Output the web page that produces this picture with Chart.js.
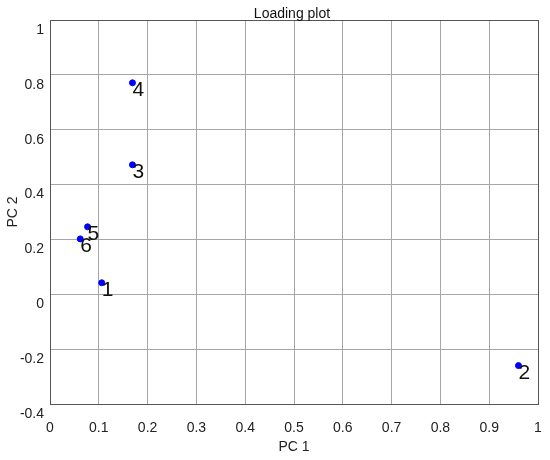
<!DOCTYPE html>
<html>
<head>
<meta charset="utf-8">
<script src="https://cdn.jsdelivr.net/npm/chart.js@4"></script>
<style>
  html, body { margin: 0; padding: 0; background: #fff; }
  #wrap { width: 550px; height: 460px; }
</style>
</head>
<body>
<div id="wrap"><canvas id="c" width="550" height="460"></canvas></div>
<script>
const chartTitle = "Loading plot";
const pointLabels = ["1", "2", "3", "4", "5", "6"];
const pc1Values = [0.106, 0.960, 0.169, 0.169, 0.077, 0.062];
const pc2Values = [0.042, -0.260, 0.472, 0.771, 0.246, 0.202];
const xTicks = [0, 0.1, 0.2, 0.3, 0.4, 0.5, 0.6, 0.7, 0.8, 0.9, 1];
const yTicks = [-0.4, -0.2, 0, 0.2, 0.4, 0.6, 0.8, 1];

const FONT = "'Liberation Sans', Arial, sans-serif";
const points = pc1Values.map((x, i) => ({ x: x, y: pc2Values[i] }));

const frameAndLabels = {
  id: 'frameAndLabels',
  afterDraw(chart) {
    const ctx = chart.ctx;
    const a = chart.chartArea;
    ctx.save();
    ctx.strokeStyle = '#555';
    ctx.lineWidth = 1;
    ctx.strokeRect(Math.round(a.left) + 0.5, Math.round(a.top) + 0.5,
                   Math.round(a.right - a.left), Math.round(a.bottom - a.top));
    // title centred over the plot area
    ctx.fillStyle = '#111';
    ctx.font = "14px " + FONT;
    ctx.textAlign = 'center';
    ctx.textBaseline = 'alphabetic';
    ctx.fillText(chartTitle, (a.left + a.right) / 2 - 2, a.top - 2);
    // point labels
    const xs = chart.scales.x, ys = chart.scales.y;
    ctx.font = "21px " + FONT;
    ctx.textAlign = 'left';
    pointLabels.forEach((lab, i) => {
      const px = xs.getPixelForValue(pc1Values[i]);
      const py = ys.getPixelForValue(pc2Values[i]);
      ctx.fillText(lab, px, py + 13);
    });
    ctx.restore();
  }
};

const fmt = v => String(Number(Number(v).toFixed(1)));

new Chart(document.getElementById('c'), {
  type: 'scatter',
  data: {
    datasets: [{
      label: 'Loadings',
      data: points,
      backgroundColor: '#0000ff',
      borderColor: '#0000ff',
      pointRadius: 3,
      pointHoverRadius: 3
    }]
  },
  options: {
    responsive: false,
    animation: false,
    layout: { padding: { left: 0, right: 12, top: 20, bottom: 0 } },
    plugins: {
      legend: { display: false },
      tooltip: { enabled: false },
      title: { display: false }
    },
    scales: {
      x: {
        type: 'linear',
        min: 0, max: 1,
        afterBuildTicks: s => { s.ticks = xTicks.map(v => ({ value: v })); },
        afterFit: s => { s.height = 56; s.paddingRight = 0; s.paddingLeft = 0; },
        ticks: {
          color: '#222',
          font: { family: FONT, size: 14 },
          padding: 16,
          maxRotation: 0,
          autoSkip: false,
          callback: fmt
        },
        grid: { color: '#a6a6a6', lineWidth: 1, drawTicks: false },
        border: { color: '#555' },
        title: {
          display: true,
          text: 'PC 1',
          color: '#222',
          font: { family: FONT, size: 14 },
          padding: { top: 0, bottom: 4 }
        }
      },
      y: {
        type: 'linear',
        min: -0.4, max: 1,
        afterBuildTicks: s => { s.ticks = yTicks.map(v => ({ value: v })); },
        afterFit: s => { s.width = 50; s.paddingTop = 0; s.paddingBottom = 0; },
        ticks: {
          color: '#222',
          font: { family: FONT, size: 14 },
          padding: 6,
          labelOffset: 10,
          autoSkip: false,
          callback: fmt
        },
        grid: { color: '#a6a6a6', lineWidth: 1, drawTicks: false },
        border: { color: '#555' },
        title: {
          display: true,
          text: 'PC 2',
          color: '#222',
          font: { family: FONT, size: 14 },
          padding: { top: 5, bottom: 0 }
        }
      }
    }
  },
  plugins: [frameAndLabels]
});
</script>
</body>
</html>
